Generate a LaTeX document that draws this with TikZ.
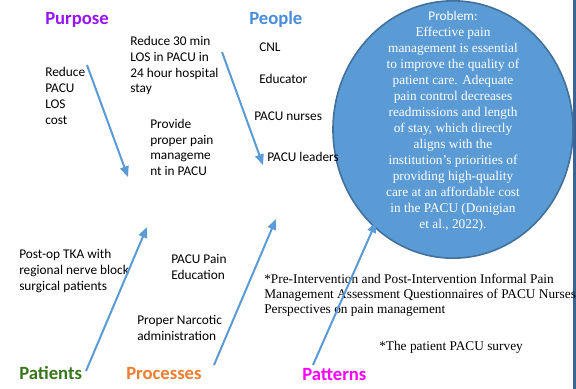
\documentclass[tikz,border=0pt]{standalone}
\usepackage{fontspec}
\setmainfont{Liberation Serif}
\newfontfamily\calib{Carlito}
\usetikzlibrary{arrows.meta,shapes.geometric}
\definecolor{arrowblue}{RGB}{91,155,213}
\definecolor{circfill}{RGB}{91,155,213}
\definecolor{circline}{RGB}{65,113,156}
\definecolor{barcol}{RGB}{58,100,150}
\definecolor{purp}{RGB}{150,20,245}
\definecolor{peopleblue}{RGB}{72,140,220}
\definecolor{patgreen}{RGB}{56,118,29}
\definecolor{procorange}{RGB}{237,125,49}
\definecolor{pattmag}{RGB}{255,0,255}
\tikzset{
  head/.style={anchor=base west, inner sep=0pt, font=\calib\bfseries\fontsize{14}{16}\selectfont},
  txt/.style={anchor=base west, inner sep=0pt, align=left, font=\calib\fontsize{10}{11.8}\selectfont},
  serif/.style={anchor=base west, inner sep=0pt, align=left, font=\fontsize{10}{11.25}\selectfont},
  flow/.style={draw=arrowblue, line width=1.5pt, -{Triangle[length=8pt,width=6.5pt]}},
}
\begin{document}
\begin{tikzpicture}[x=0.75pt,y=-0.75pt]
\useasboundingbox (0,0) rectangle (576,389);
\fill[white] (0,0) rectangle (576,389);
% right bar
\fill[barcol] (573,0) rectangle (575.5,389);
% problem circle
\node (prob) [ellipse, draw=circline, fill=circfill, line width=1.2pt,
  minimum width=180pt, minimum height=193pt, inner sep=0pt] at (453,129.5) {};
\node (probtxt) [anchor=base, inner sep=0pt, align=center, text=white,
  font=\fontsize{10}{12}\selectfont] at (453,228)
  {{\calib Problem:}\\Effective pain\\management is essential\\to improve the quality of\\patient care. Adequate\\pain control decreases\\readmissions and length\\of stay, which directly\\aligns with the\\institution's priorities of\\providing high-quality\\care at an affordable cost\\in the PACU (Donigian\\et al., 2022).};
% headers
\node (purpose) [head, text=purp] at (45,25) {Purpose};
\node (people) [head, text=peopleblue] at (249,25) {People};
\node (patients) [head, text=patgreen] at (19,379) {Patients};
\node (processes) [head, text=procorange] at (126,379) {Processes};
\node (patterns) [head, text=pattmag] at (302,380) {Patterns};
% purpose texts
\node (reduce) [txt] at (45,124) {Reduce\\PACU\\LOS\\cost};
\node (red30) [txt] at (130,93) {Reduce 30 min\\LOS in PACU in\\24 hour hospital\\stay};
\node (provide) [txt] at (150,175.7) {Provide\\proper pain\\manageme\\nt in PACU};
% people texts
\node (cnl) [txt] at (259,51.7) {CNL};
\node (educ) [txt] at (259,83.3) {Educator};
\node (nurses) [txt] at (254,120.5) {PACU nurses};
\node (leaders) [txt] at (267,161.7) {PACU leaders};
% patients / processes
\node (postop) [txt] at (19,290) {Post-op TKA with\\regional nerve block\\surgical patients};
\node (paceduc) [txt] at (171,279.3) {PACU Pain\\Education};
\node (narc) [txt] at (137,340) {Proper Narcotic\\administration};
% patterns
\node (preint) [serif] at (264,313.3) {*Pre-Intervention and Post-Intervention Informal Pain\\Management Assessment Questionnaires of PACU Nurses\\Perspectives on pain management};
\node (survey) [serif] at (379,350) {*The patient PACU survey};
% arrows
\coordinate (a1s) at (87,65);   \coordinate (a1e) at (128,177);
\coordinate (a2s) at (222,52);  \coordinate (a2e) at (263,165);
\coordinate (a3s) at (86,371);  \coordinate (a3e) at (147,227);
\coordinate (a4s) at (214,365); \coordinate (a4e) at (276,219);
\coordinate (a5s) at (313,365); \coordinate (a5e) at (376,222);
\draw[flow] (a1s) -- (a1e);
\draw[flow] (a2s) -- (a2e);
\draw[flow] (a3s) -- (a3e);
\draw[flow] (a4s) -- (a4e);
\draw[flow] (a5s) -- (a5e);
\end{tikzpicture}
\end{document}
